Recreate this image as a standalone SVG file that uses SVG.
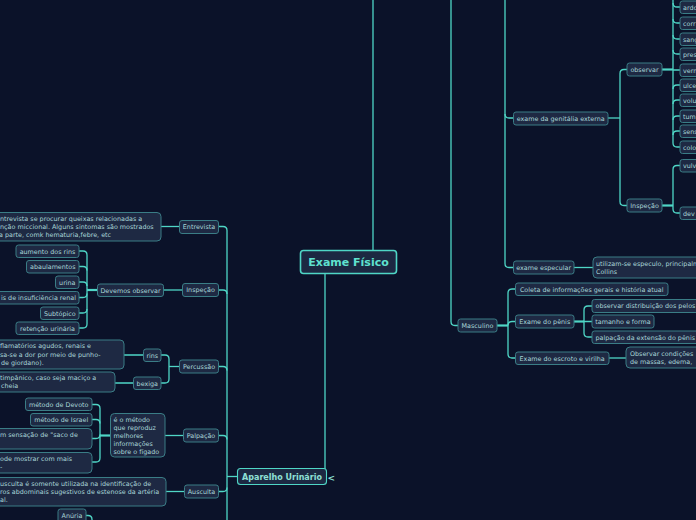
<svg xmlns="http://www.w3.org/2000/svg" width="696" height="520" viewBox="0 0 696 520">
<style>
.bg{fill:#0b1229}
.c{fill:none;stroke:#4fd6c6;stroke-width:1.3}
.ct{fill:none;stroke:#4fd6c6;stroke-width:2.2}
.b{fill:#1e2943;stroke:#3a7d86;stroke-width:1}
.t{font-family:"DejaVu Sans","Liberation Sans",sans-serif;font-size:6.4px;fill:#a9d6d8}
.m{text-anchor:middle}
.root{fill:#1c2842;stroke:#4fd6c6;stroke-width:1.6}
.rt{font-family:"DejaVu Sans","Liberation Sans",sans-serif;font-size:11px;font-weight:bold;fill:#5fe2d0;text-anchor:middle}
.l1{fill:#1c2842;stroke:#4fd6c6;stroke-width:1.1}
.l1t{font-family:"DejaVu Sans","Liberation Sans",sans-serif;font-size:8px;font-weight:bold;fill:#8fe0d6;text-anchor:middle}
</style>
<rect class="bg" x="0" y="0" width="696" height="520"/>
<g id="connectors">
<path class="c" d="M373,-5 V250"/>
<path class="c" d="M325,273 V469"/>
<path class="c" d="M451,-5 V321.5 Q451,325.5 455,325.5 H458"/>
<path class="c" d="M505,-5 V263.5 Q505,267.5 509,267.5 H513"/>
<path class="c" d="M505,114 Q505,118 509,118 H513"/>
<path class="c" d="M608,118 H620"/>
<path class="c" d="M627,69.5 H624 Q620,69.5 620,73.5 V201.5 Q620,205.5 624,205.5 H627"/>
<path class="ct" d="M662,69.5 H673"/>
<path class="c" d="M673,-5 V143 Q673,147 677,147 H680"/>
<path class="c" d="M673,3 Q673,7 677,7 H680 M673,19 Q673,23 677,23 H680 M673,35 Q673,39 677,39 H680 M673,50 Q673,54 677,54 H680 M673,70 H680 M673,89 Q673,85 677,85 H680 M673,104 Q673,100 677,100 H680 M673,120 Q673,116 677,116 H680 M673,135 Q673,131 677,131 H680"/>
<path class="c" d="M680,165.5 H677 Q673,165.5 673,169.5 V209 Q673,213 677,213 H680"/>
<path class="ct" d="M662,205.5 H673"/>
<path class="c" d="M574,267.5 H593"/>
<path class="ct" d="M497,325.5 H508"/>
<path class="c" d="M515,289 H512 Q508,289 508,293 V354 Q508,358 512,358 H515"/>
<path class="c" d="M508,325.5 Q508,321.5 512,321.5 H515"/>
<path class="ct" d="M574,321.5 H584"/>
<path class="c" d="M592,306 H588 Q584,306 584,310 V333 Q584,337 588,337 H592 M584,321.5 H592"/>
<path class="c" d="M609,358 H626"/>
<path class="c" d="M237,476.5 H227"/>
<path class="c" d="M219,226.5 H223 Q227,226.5 227,230.5 V525"/>
<path class="c" d="M219,290 H223 Q227,290 227,294 M219,366.5 H223 Q227,366.5 227,370.5 M219,435.5 H223 Q227,435.5 227,439.5 M219,491.5 H223 Q227,491.5 227,487.5"/>
<path class="c" d="M161,226.5 H179"/>
<path class="c" d="M164,290 H182"/>
<path class="ct" d="M87,290 H97"/>
<path class="c" d="M79,251 H83 Q87,251 87,255 V324 Q87,328 83,328 H79"/>
<path class="c" d="M79,266.5 H83 Q87,266.5 87,270.5 M79,282 H83 Q87,282 87,286 M79,297.5 H83 Q87,297.5 87,293.5 M79,313 H83 Q87,313 87,309"/>
<path class="c" d="M169,366.5 H179"/>
<path class="c" d="M161,355 H165 Q169,355 169,359 V379 Q169,383 165,383 H161"/>
<path class="c" d="M124,355 H143 M115,383 H133"/>
<path class="c" d="M165,435.5 H183"/>
<path class="ct" d="M100,435.5 H110"/>
<path class="c" d="M92,404.5 H96 Q100,404.5 100,408.5 V458 Q100,462 96,462 H92"/>
<path class="c" d="M92,419.5 H96 Q100,419.5 100,423.5 M92,438.5 H96 Q100,438.5 100,434.5"/>
<path class="c" d="M166,491.5 H184"/>
<path class="c" d="M86,515.5 H88 Q92,515.5 92,519.5 V525"/>
</g>
<g id="exame-fisico"><rect class="root" x="300.5" y="250.5" width="96" height="23" rx="3"/><text class="rt" x="348.5" y="266">Exame Físico</text></g>
<g id="aparelho-urinario"><rect class="l1" x="237.5" y="468.5" width="89" height="16" rx="3"/><text class="l1t" x="282" y="479.5">Aparelho Urinário</text><text x="327.5" y="480.5" style="font-family:'DejaVu Sans',sans-serif;font-size:9px;font-weight:bold;fill:#8fe0d6">&lt;</text></g>
<g id="entrevista"><rect class="b" x="179.5" y="220.5" width="39" height="13" rx="2.5"/><text class="t m" x="199" y="229.3">Entrevista</text></g>
<g id="entrevista-txt"><rect class="b" x="-10" y="212.5" width="171" height="28.5" rx="4"/><text class="t" x="0" y="220.5">ntrevista se procurar queixas relacionadas a</text><text class="t" x="0" y="228.8">nção miccional. Alguns sintomas são mostrados</text><text class="t" x="-1" y="236.8">a parte, comk hematuria,febre, etc</text></g>
<g id="inspecao"><rect class="b" x="182.5" y="283.5" width="36" height="13" rx="2.5"/><text class="t m" x="200.5" y="292.3">Inspeção</text></g>
<g id="devemos"><rect class="b" x="97.5" y="284" width="66" height="12.5" rx="2.5"/><text class="t m" x="130.5" y="292.6">Devemos observar</text></g>
<g id="aumento"><rect class="b" x="16" y="245" width="63" height="12.5" rx="2.5"/><text class="t m" x="47.5" y="253.5">aumento dos rins</text></g>
<g id="abaulamentos"><rect class="b" x="26.5" y="260.5" width="52.5" height="12.5" rx="2.5"/><text class="t m" x="52.8" y="269">abaulamentos</text></g>
<g id="urina"><rect class="b" x="55.5" y="276" width="23.5" height="12.5" rx="2.5"/><text class="t m" x="67.3" y="284.5">urina</text></g>
<g id="insuficiencia"><rect class="b" x="-10" y="291.5" width="89" height="12.5" rx="2.5"/><text class="t" x="76" y="300" text-anchor="end">is de insuficiência renal</text></g>
<g id="subtopico"><rect class="b" x="40.5" y="307" width="38.5" height="12.5" rx="2.5"/><text class="t m" x="59.8" y="315.5">Subtópico</text></g>
<g id="retencao"><rect class="b" x="16" y="322" width="63" height="12.5" rx="2.5"/><text class="t m" x="47.5" y="330.7">retenção urinária</text></g>
<g id="percussao"><rect class="b" x="179.5" y="360" width="39" height="13" rx="2.5"/><text class="t m" x="199" y="369">Percussão</text></g>
<g id="rins"><rect class="b" x="143.5" y="349" width="17.5" height="12.5" rx="2.5"/><text class="t m" x="152.3" y="357.5">rins</text></g>
<g id="bexiga"><rect class="b" x="133.5" y="377" width="27.5" height="12.5" rx="2.5"/><text class="t m" x="147.3" y="385.5">bexiga</text></g>
<g id="rins-txt"><rect class="b" x="-10" y="340" width="134" height="29" rx="4"/><text class="t" x="0" y="348.3">flamatórios agudos, renais e</text><text class="t" x="0" y="356.5">sa-se a dor por meio de punho-</text><text class="t" x="1" y="364.8"> de giordano).</text></g>
<g id="bexiga-txt"><rect class="b" x="-10" y="372" width="125" height="20" rx="4"/><text class="t" x="0" y="379.8">timpânico, caso seja maciço a</text><text class="t" x="1" y="387.6"> cheia</text></g>
<g id="palpacao"><rect class="b" x="183.5" y="429" width="35" height="13" rx="2.5"/><text class="t m" x="201" y="438">Palpação</text></g>
<g id="metodo-figado"><rect class="b" x="110.5" y="413.5" width="54.5" height="43.5" rx="4"/><text class="t" x="113.5" y="421.8">é o  método</text><text class="t" x="113.5" y="429.8">que reproduz</text><text class="t" x="113.5" y="437.8">melhores</text><text class="t" x="113.5" y="445.8">informações</text><text class="t" x="113.5" y="453.8">sobre o fígado</text></g>
<g id="devoto"><rect class="b" x="25.5" y="398" width="66.5" height="12.5" rx="2.5"/><text class="t m" x="58.7" y="406.7">método de Devoto</text></g>
<g id="israel"><rect class="b" x="30.5" y="413.5" width="61.5" height="12.5" rx="2.5"/><text class="t m" x="61.2" y="422.2">método de Israel</text></g>
<g id="saco"><rect class="b" x="-10" y="428.5" width="102" height="20.5" rx="4"/><text class="t" x="0" y="436.7">m sensação de "saco de</text></g>
<g id="mostrar"><rect class="b" x="-10" y="452.5" width="102" height="20.5" rx="4"/><text class="t" x="0" y="460.7">ode mostrar com mais</text><text class="t" x="0" y="468.7">-</text></g>
<g id="ausculta"><rect class="b" x="184.5" y="485" width="34" height="13" rx="2.5"/><text class="t m" x="201.5" y="494">Ausculta</text></g>
<g id="ausculta-txt"><rect class="b" x="-10" y="477.5" width="176" height="28.5" rx="4"/><text class="t" x="0" y="485.6">usculta é somente utilizada na identificação de</text><text class="t" x="0" y="493.6">ros abdominais sugestivos de estenose da artéria</text><text class="t" x="0" y="501.6">al.</text></g>
<g id="anuria"><rect class="b" x="58" y="509" width="28" height="14" rx="2.5"/><text class="t m" x="72" y="517.5">Anúria</text></g>
<g id="genitalia"><rect class="b" x="513.5" y="112" width="94.5" height="13" rx="2.5"/><text class="t m" x="560.7" y="120.8">exame da genitália externa</text></g>
<g id="observar"><rect class="b" x="627" y="63" width="35" height="13" rx="2.5"/><text class="t m" x="644.5" y="71.8">observar</text></g>
<g id="obs-ardo"><rect class="b" x="680" y="1" width="30" height="12.5" rx="2.5"/><text class="t" x="683" y="9.5">ardo</text></g>
<g id="obs-corr"><rect class="b" x="680" y="17" width="30" height="12.5" rx="2.5"/><text class="t" x="683" y="25.5">corr</text></g>
<g id="obs-sang"><rect class="b" x="680" y="33" width="30" height="12.5" rx="2.5"/><text class="t" x="683" y="41.5">sang</text></g>
<g id="obs-pres"><rect class="b" x="680" y="48" width="30" height="12.5" rx="2.5"/><text class="t" x="683" y="56.5">pres</text></g>
<g id="obs-verm"><rect class="b" x="680" y="64" width="30" height="12.5" rx="2.5"/><text class="t" x="683" y="72.5">verm</text></g>
<g id="obs-ulce"><rect class="b" x="680" y="79" width="30" height="12.5" rx="2.5"/><text class="t" x="683" y="87.5">ulce</text></g>
<g id="obs-volu"><rect class="b" x="680" y="94" width="30" height="12.5" rx="2.5"/><text class="t" x="683" y="102.5">volu</text></g>
<g id="obs-tum"><rect class="b" x="680" y="110" width="30" height="12.5" rx="2.5"/><text class="t" x="683" y="118.5">tum</text></g>
<g id="obs-sens"><rect class="b" x="680" y="125" width="30" height="12.5" rx="2.5"/><text class="t" x="683" y="133.5">sens</text></g>
<g id="obs-colo"><rect class="b" x="680" y="141" width="30" height="12.5" rx="2.5"/><text class="t" x="683" y="149.5">colo</text></g>
<g id="inspecao-f"><rect class="b" x="627" y="199" width="35" height="13" rx="2.5"/><text class="t m" x="644.5" y="207.8">Inspeção</text></g>
<g id="insp-vulv"><rect class="b" x="680" y="159.5" width="30" height="12.5" rx="2.5"/><text class="t" x="683" y="168">vulv</text></g>
<g id="insp-dev"><rect class="b" x="680" y="207" width="30" height="12.5" rx="2.5"/><text class="t" x="683" y="215.5">dev</text></g>
<g id="especular"><rect class="b" x="513.5" y="261" width="60.5" height="13" rx="2.5"/><text class="t m" x="543.7" y="269.8">exame especular</text></g>
<g id="especular-txt"><rect class="b" x="593" y="257" width="120" height="21" rx="4"/><text class="t" x="596" y="265.6">utilizam-se especulo, principalmente</text><text class="t" x="596" y="273.6">Collins</text></g>
<g id="masculino"><rect class="b" x="458" y="319" width="39" height="13" rx="2.5"/><text class="t m" x="477.5" y="327.8">Masculino</text></g>
<g id="coleta"><rect class="b" x="515.5" y="283" width="152.5" height="12.5" rx="2.5"/><text class="t m" x="591.7" y="291.5">Coleta de informações gerais e história atual</text></g>
<g id="penis"><rect class="b" x="515.5" y="315" width="58.5" height="13" rx="2.5"/><text class="t m" x="544.7" y="323.8">Exame do pênis</text></g>
<g id="pelos"><rect class="b" x="592" y="299.5" width="120" height="13" rx="2.5"/><text class="t" x="595.5" y="308.3">observar distribuição dos pelos</text></g>
<g id="tamanho"><rect class="b" x="592" y="315" width="62" height="13" rx="2.5"/><text class="t m" x="623" y="323.8">tamanho e forma</text></g>
<g id="palpacao-penis"><rect class="b" x="592" y="331" width="120" height="12.5" rx="2.5"/><text class="t" x="595.5" y="339.5">palpação da extensão do pênis</text></g>
<g id="escroto"><rect class="b" x="515.5" y="352" width="93.5" height="12.5" rx="2.5"/><text class="t m" x="562.2" y="360.5">Exame do escroto e virilha</text></g>
<g id="escroto-txt"><rect class="b" x="626" y="347" width="90" height="21" rx="4"/><text class="t" x="630" y="355.6">Observar condições</text><text class="t" x="630" y="363.6">de massas, edema,</text></g>
</svg>
